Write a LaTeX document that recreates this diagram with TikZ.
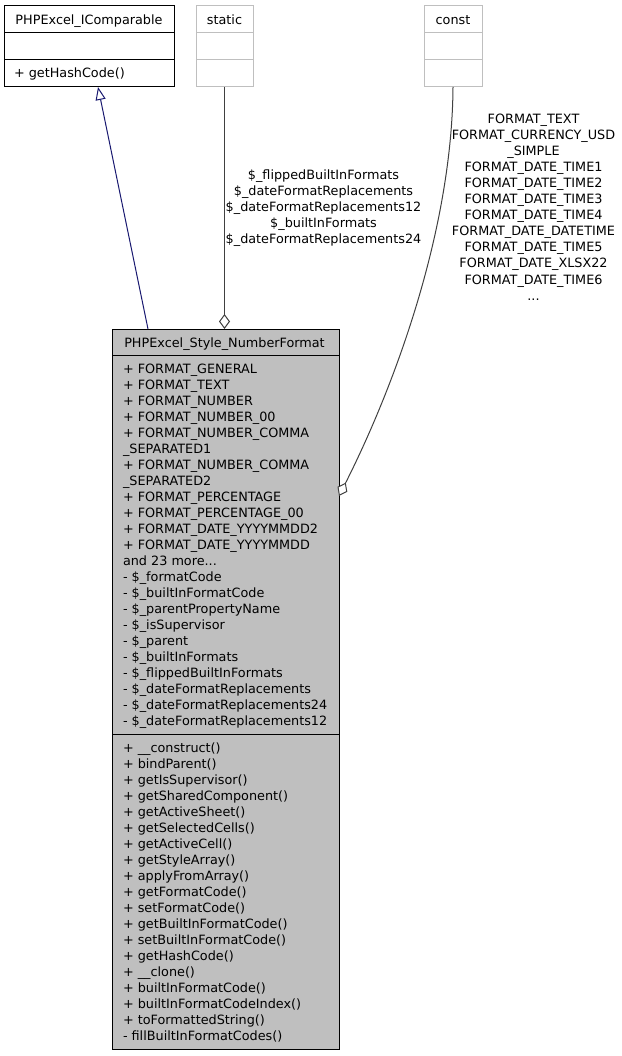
\documentclass[tikz,border=0pt]{standalone}
\usepackage{fontspec}
\setmainfont{DejaVu Sans}
\usetikzlibrary{arrows.meta}
\definecolor{boxgrey}{HTML}{BFBFBF}
\definecolor{edgegrey}{HTML}{404040}
\definecolor{navyedge}{HTML}{191970}
\newcommand\dfont{\fontsize{12.8}{16}\selectfont}
\newcommand\tdots{...}
\tikzset{
  comp/.style={draw=black, fill=white, line width=1pt, inner sep=0pt, outer sep=0pt, minimum height=27pt},
  gcomp/.style={draw=boxgrey, fill=white, line width=1pt, inner sep=0pt, outer sep=0pt, minimum height=27pt},
  mcomp/.style={draw=black, fill=boxgrey, line width=1pt, inner sep=0pt, outer sep=0pt, minimum width=227pt},
  txt/.style={font=\dfont, inner sep=0pt, outer sep=0pt, text=black},
  inherit/.style={draw=navyedge, line width=1pt, -{Triangle[open, length=13pt, width=10pt, fill=white]}},
  agg/.style={draw=edgegrey, line width=1pt, -{Diamond[open, length=15pt, width=11pt, fill=white]}}
}
\begin{document}
\begin{tikzpicture}[x=1pt, y=-1pt]
\useasboundingbox (0,0) rectangle (621,1056);
% PHPExcel_IComparable
\node[comp, minimum width=170pt] (cmpT) at (89,19.5) {};
\node[comp, minimum width=170pt] (cmpA) at (89,46.5) {};
\node[comp, minimum width=170pt] (cmpM) at (89,73.5) {};
\node[txt, anchor=base] (cmpTt) at (89,24.5) {PHPExcel\_IComparable};
\node[txt, anchor=base west] (cmpMt) at (14,78) {+ getHashCode()};
% static
\node[gcomp, minimum width=57pt] (sT) at (224.5,19.5) {};
\node[gcomp, minimum width=57pt] (sA) at (224.5,46.5) {};
\node[gcomp, minimum width=57pt] (sM) at (224.5,73.5) {};
\node[txt, anchor=base] (sTt) at (224.5,24.5) {static};
% const
\node[gcomp, minimum width=58pt] (cT) at (453,19.5) {};
\node[gcomp, minimum width=58pt] (cA) at (453,46.5) {};
\node[gcomp, minimum width=58pt] (cM) at (453,73.5) {};
\node[txt, anchor=base] (cTt) at (453,24.5) {const};
% main class
\node[mcomp, minimum height=26pt] (mainT) at (225.5,342) {};
\node[mcomp, minimum height=379pt] (mainA) at (225.5,544.5) {};
\node[mcomp, minimum height=315pt] (mainM) at (225.5,891.5) {};
\node[txt, anchor=base] (mainTt) at (224.5,347) {PHPExcel\_Style\_NumberFormat};
\foreach \t [count=\i from 0] in {{+ FORMAT\_GENERAL},{+ FORMAT\_TEXT},{+ FORMAT\_NUMBER},{+ FORMAT\_NUMBER\_00},{+ FORMAT\_NUMBER\_COMMA},{\_SEPARATED1},{+ FORMAT\_NUMBER\_COMMA},{\_SEPARATED2},{+ FORMAT\_PERCENTAGE},{+ FORMAT\_PERCENTAGE\_00},{+ FORMAT\_DATE\_YYYYMMDD2},{+ FORMAT\_DATE\_YYYYMMDD},{and 23 more\tdots},{- \$\_formatCode},{- \$\_builtInFormatCode},{- \$\_parentPropertyName},{- \$\_isSupervisor},{- \$\_parent},{- \$\_builtInFormats},{- \$\_flippedBuiltInFormats},{- \$\_dateFormatReplacements},{- \$\_dateFormatReplacements24},{- \$\_dateFormatReplacements12}}
  \node[txt, anchor=base west] (attr\i) at (123,373+16*\i) {\t};
\foreach \t [count=\i from 0] in {{+ \_\_construct()},{+ bindParent()},{+ getIsSupervisor()},{+ getSharedComponent()},{+ getActiveSheet()},{+ getSelectedCells()},{+ getActiveCell()},{+ getStyleArray()},{+ applyFromArray()},{+ getFormatCode()},{+ setFormatCode()},{+ getBuiltInFormatCode()},{+ setBuiltInFormatCode()},{+ getHashCode()},{+ \_\_clone()},{+ builtInFormatCode()},{+ builtInFormatCodeIndex()},{+ toFormattedString()},{- fillBuiltInFormatCodes()}}
  \node[txt, anchor=base west] (meth\i) at (123,752+16*\i) {\t};
% edges
\draw[inherit] ([xshift=-77.5pt]mainT.north) -- ([xshift=9pt]cmpM.south);
\draw[agg] (sM.south) -- (sM.south |- mainT.north);
\draw[agg] (cM.south) .. controls (452,230) and (395,385) .. ([yshift=48.5pt]mainA.east);
% edge labels
\foreach \t [count=\i from 0] in {{\$\_flippedBuiltInFormats},{\$\_dateFormatReplacements},{\$\_dateFormatReplacements12},{\$\_builtInFormats},{\$\_dateFormatReplacements24}}
  \node[txt, anchor=base] (sl\i) at (323.5,180+16*\i) {\t};
\foreach \t [count=\i from 0] in {{FORMAT\_TEXT},{FORMAT\_CURRENCY\_USD},{\_SIMPLE},{FORMAT\_DATE\_TIME1},{FORMAT\_DATE\_TIME2},{FORMAT\_DATE\_TIME3},{FORMAT\_DATE\_TIME4},{FORMAT\_DATE\_DATETIME},{FORMAT\_DATE\_TIME5},{FORMAT\_DATE\_XLSX22},{FORMAT\_DATE\_TIME6},{\tdots}}
  \node[txt, anchor=base] (cl\i) at (533.5,124+16*\i) {\t};
\end{tikzpicture}
\end{document}
